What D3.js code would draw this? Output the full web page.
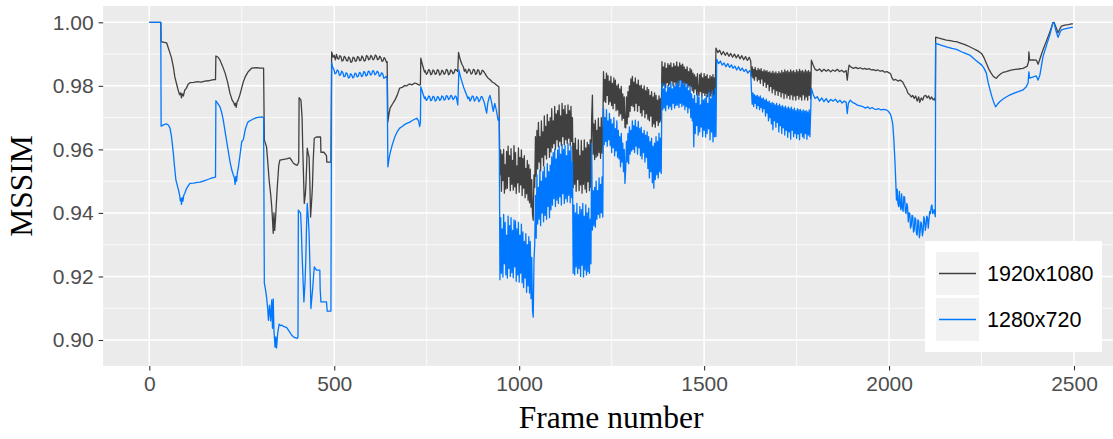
<!DOCTYPE html>
<html>
<head>
<meta charset="utf-8">
<script src="https://cdn.jsdelivr.net/npm/d3@7"></script>
<style>
  html, body { margin: 0; padding: 0; background: #ffffff; }
  svg { display: block; }
</style>
</head>
<body>
<svg id="chart" width="1113" height="439"></svg>
<script>
// ---------------- DATA ----------------
const seriesNames = ["1920x1080", "1280x720"];
const xTicks = [0, 500, 1000, 1500, 2000, 2500];
const xMinorTicks = [250, 750, 1250, 1750, 2250];
const yTicks = [0.90, 0.92, 0.94, 0.96, 0.98, 1.00];
const yMinorTicks = [0.91, 0.93, 0.95, 0.97, 0.99];
const xTitle = "Frame number";
const yTitle = "MSSIM";

// ---- 1920x1080: [frame, MSSIM] pairs for the calmer stretches ----
const series1080 = [
[0,1.0],[31,1.0],[32,.9939],[40,.9937],[47,.9935],[54,.991],[60,.9888],[65,.986],[69,.9828],[74,.9805],[78,.9787],[82,.9772],[85,.9778],[87,.9762],[89,.9775],[92,.9768],[96,.9787],[100,.9792],[105,.9805],[110,.981],[120,.9811],[130,.9813],[140,.9812],[150,.9815],[160,.9816],[170,.9819],[179,.982],
[180,.9894],[186,.989],[191,.9881],[198,.9862],[205,.984],[212,.981],[218,.9777],[224,.9755],[228,.9748],[231,.9738],[233,.9745],[235,.9732],[237,.9748],[240,.9755],[244,.9768],[248,.9785],[254,.9812],[260,.983],[267,.9844],[272,.985],[277,.9856],[290,.9857],[300,.9856],[309,.9856],
[311,.963],[317,.9608],[321,.955],[324,.9503],[328,.946],[331,.942],[333,.938],[335,.9336],[337,.940],[339,.9345],[341,.9377],[344,.944],[346,.9481],[350,.955],[353,.9566],[360,.9568],[371,.957],[380,.9573],[385,.9565],[389,.9557],[395,.9552],[400,.955],[404,.956],[405,.9763],[410,.9755],[413,.970],[415,.9598],[419,.943],[422,.946],[424,.9503],[427,.9604],[430,.9585],[432,.9576],[434,.950],[436,.9387],[439,.944],[441,.9482],[443,.956],[446,.9635],[452,.9639],[463,.9639],[464,.9591],[472,.9591],[479,.958],[480,.956],[491,.956],
[493,.9907],[497,.9890],[500,.9896],[503,.9882],[506,.9899],[509,.9886],[512,.9884],[515,.9895],[518,.9892],[521,.9878],[524,.988],[527,.9893],[530,.9889],[533,.9880],[536,.9878],[539,.9891],[542,.9886],[545,.9874],[548,.9876],[551,.9890],[554,.9888],[557,.9877],[560,.9879],[563,.9892],[566,.989],[569,.9879],[572,.9881],[575,.9894],[578,.9888],[581,.9878],[584,.988],[587,.9895],[590,.9893],[593,.9882],[596,.9884],[599,.9896],[602,.9891],[605,.9882],[608,.9885],[611,.9897],[614,.9894],[617,.9882],[620,.9884],[623,.9893],[626,.9889],[629,.9877],[632,.9879],[635,.9889],[638,.9884],[641,.9874],[643,.9876],
[645,.9687],[648,.9712],[651,.973],[657,.9742],[664,.9755],[670,.977],[677,.9793],[684,.9795],[690,.9801],[696,.98],[703,.9806],[710,.9803],[718,.9809],[724,.9806],[730,.9802],[733,.9804],
[734,.9887],[738,.9868],[741,.9856],[744,.9843],[746,.9848],[749,.9836],[752,.984],[755,.9851],[758,.9849],[761,.9835],[764,.9838],[767,.9850],[770,.9847],[773,.9836],[776,.9839],[779,.9851],[782,.9848],[785,.9834],[788,.9837],[791,.9849],[794,.9846],[797,.9836],[800,.984],[803,.9852],[806,.9849],[809,.9835],[812,.9838],[815,.9850],[818,.9847],[821,.9838],[824,.9841],[827,.9852],[830,.985],[834,.9845],[836,.9905],[840,.9885],[845,.9868],[849,.986],[852,.9846],[855,.9852],[858,.9840],[861,.9845],[864,.9853],[867,.9848],[870,.9837],[873,.984],[876,.9852],[879,.985],[882,.9836],[885,.9839],[888,.9851],[891,.9848],[894,.9835],[897,.9838],[900,.9849],[903,.9847],[907,.984],[911,.9832],[916,.9824],[921,.982],[927,.9812],[933,.9808],[939,.9802],[945,.9797],
[1532,.9919],[1537,.9905],[1542,.9912],[1547,.9898],[1552,.9908],[1557,.9896],[1562,.9905],[1567,.9893],[1572,.9902],[1577,.989],[1582,.99],[1587,.9888],[1592,.9898],[1597,.9885],[1602,.9895],[1607,.9882],[1612,.9892],[1617,.988],[1622,.989],[1626,.9878],
[1790,.9881],[1795,.9865],[1800,.9852],[1806,.9848],[1812,.9853],[1818,.9845],[1824,.9852],[1830,.9846],[1836,.9851],[1842,.9844],[1848,.985],[1854,.9846],[1860,.9852],[1866,.9845],[1872,.9849],[1878,.9843],[1884,.9848],[1887,.9818],[1890,.985],[1892,.9865],[1898,.9858],[1904,.9855],[1910,.9858],[1916,.9854],[1922,.9857],[1928,.9853],[1934,.9855],[1940,.9852],[1946,.9854],[1952,.985],[1958,.9851],[1964,.9848],[1970,.985],[1976,.9846],[1982,.9848],[1988,.9843],[1994,.9845],[2000,.9841],[2004,.9838],[2008,.9825],[2012,.9818],[2018,.982],[2024,.9815],[2030,.9818],[2037,.9812],[2042,.98],[2047,.979],[2051,.9777],[2056,.9772],[2060,.9765],[2064,.977],[2068,.976],[2072,.9768],[2076,.9752],[2080,.9765],[2083,.9748],[2087,.9762],[2091,.9755],[2095,.9768],[2099,.977],[2103,.9762],[2107,.9768],[2111,.9758],[2115,.9765],[2119,.9756],[2123,.976],[2125,.9752],
[2126,.9953],[2135,.995],[2145,.9947],[2155,.9944],[2165,.9942],[2175,.994],[2182,.9939],[2195,.9934],[2205,.993],[2218,.9923],[2230,.9916],[2240,.991],[2250,.9902],[2257,.9888],[2263,.9871],[2270,.9852],[2276,.984],[2281,.9831],[2286,.9826],[2290,.9824],[2296,.9832],[2302,.9838],[2308,.9842],[2317,.9845],[2325,.9848],[2333,.985],[2341,.9852],[2350,.9853],[2362,.9855],[2373,.9861],[2377,.9875],[2378,.9907],[2380,.9881],[2388,.9882],[2398,.9881],[2403,.9868],[2408,.9885],[2416,.9913],[2425,.994],[2435,.997],[2443,.9999],[2446,1.0],[2452,.9982],[2457,.9967],[2462,.998],[2466,.9988],[2475,.9991],[2485,.9993],[2493,.9995],[2497,.9995]
];
// 1920x1080, noisy stretch, one value every 2 frames from frame 948
const noise1080Start = 948;
const noise1080 = [
.9520,.9598,.9468,.9585,.9502,.9600,.9462,.9552,.9475,.9594,
.9478,.9610,.9515,.9580,.9470,.9602,.9490,.9565,.9472,.9612,
.9482,.9590,.9461,.9548,.9495,.9605,.9465,.9575,.9488,.9598,
.9455,.9572,.9478,.9580,.9448,.9540,.9460,.9565,.9440,.9552,
.9432,.9538,.9418,.9505,.9395,.9377,.9520,.9480,.9640,.9515,
.9660,.9538,.9685,.9560,.9640,.9532,.9690,.9575,.9655,.9548,
.9705,.9582,.9672,.9570,.9710,.9605,.9688,.9575,.9700,.9592,
.9728,.9605,.9690,.9618,.9735,.9600,.9712,.9630,.9722,.9608,
.9740,.9625,.9705,.9612,.9745,.9640,.9725,.9615,.9738,.9630,
.9710,.9618,.9740,.9635,.9722,.9612,.9735,.9625,.9700,.9480,
.9620,.9490,.9635,.9468,.9598,.9505,.9630,.9470,.9580,.9488,
.9628,.9462,.9595,.9490,.9630,.9475,.9605,.9465,.9622,.9498,
.9615,.9470,.9630,.9480,.9700,.9771,.9585,.9680,.9568,.9692,
.9575,.9660,.9580,.9698,.9590,.9670,.9572,.9700,.9588,.9650,
.9845,.9752,.9820,.9748,.9840,.9770,.9832,.9742,.9815,.9750,
.9830,.9738,.9808,.9728,.9825,.9745,.9818,.9722,.9800,.9725,
.9805,.9705,.9790,.9712,.9798,.9692,.9775,.9698,.9765,.9670,
.9668,.9765,.9680,.9782,.9702,.9800,.9720,.9822,.9738,.9830,
.9735,.9812,.9722,.9825,.9745,.9805,.9720,.9818,.9738,.9800,
.9715,.9802,.9705,.9790,.9725,.9800,.9700,.9785,.9712,.9795,
.9695,.9788,.9690,.9770,.9705,.9782,.9672,.9765,.9680,.9778,
.9670,.9770,.9690,.9755,.9675,.9768,.9685,.9760,.9690,
.9876,.9798,.9860,.9802,.9872,.9795,.9855,.9810,.9870,.9800,
.9865,.9805,.9872,.9815,.9858,.9800,.9870,.9812,.9862,.9802,
.9875,.9808,.9860,.9800,.9872,.9818,.9865,.9803,.9868,.9810,
.9860,.9797,.9852,.9808,.9860,.9795,.9845,.9800,.9855,.9798,
.9850,.9785,.9840,.9778,.9835,.9790,.9828,.9772,.9838,.9780,
.9770,.9835,.9782,.9840,.9768,.9825,.9778,.9838,.9770,.9830,
.9775,.9835,.9765,.9822,.9780,.9832,.9768,.9828,.9776,.9835,.9766,.9825,.9772
];
// 1920x1080, second noisy stretch, every 2 frames from frame 1628
const noise1080bStart = 1628;
const noise1080b = [
.9830,.9860,.9825,.9852,.9818,.9858,.9830,.9848,.9815,.9855,
.9820,.9850,.9808,.9854,.9822,.9845,.9800,.9850,.9812,.9846,
.9795,.9848,.9805,.9842,.9785,.9845,.9798,.9840,.9778,.9846,
.9790,.9840,.9772,.9844,.9785,.9838,.9770,.9845,.9782,.9840,
.9765,.9848,.9778,.9842,.9760,.9850,.9775,.9845,.9762,.9848,
.9770,.9843,.9758,.9850,.9772,.9845,.9756,.9848,.9768,.9842,
.9755,.9850,.9770,.9845,.9758,.9852,.9765,.9846,.9755,.9848,
.9772,.9844,.9756,.9850,.9765,.9845,.9755,.9848,.9770,.9843,.9760
];

// ---- 1280x720: [frame, MSSIM] pairs for the calmer stretches ----
const series720 = [
[0,1.0],[31,1.0],[32,.9673],[40,.9678],[47,.968],[52,.9676],[56,.9667],[60,.964],[65,.9588],[68,.9548],[72,.9503],[76,.9485],[79,.9472],[82,.9455],[84,.9438],[86,.9445],[87,.9427],[89,.9448],[91,.9437],[93,.9455],[96,.9462],[100,.9475],[105,.9485],[110,.9493],[120,.9494],[130,.9496],[137,.9497],[150,.9502],[160,.9506],[170,.951],[179,.9513],
[180,.9753],[185,.9745],[191,.9734],[196,.9715],[200,.9692],[206,.9648],[213,.9598],[218,.9562],[223,.9535],[227,.952],[230,.951],[232,.949],[234,.9515],[236,.95],[238,.9525],[241,.9545],[245,.958],[250,.9625],[254,.963],[260,.9665],[266,.9685],[272,.969],[280,.9695],[290,.97],[304,.9702],[309,.97],
[311,.9179],[314,.916],[317,.9135],[320,.910],[322,.9062],[325,.911],[328,.906],[331,.9126],[333,.9037],[335,.9129],[337,.903],[340,.8977],[342,.901],[344,.8975],[347,.902],[351,.905],[355,.9045],[358,.9047],[364,.9042],[371,.904],[378,.9028],[385,.9015],[392,.9008],[400,.9005],[402,.901],[403,.9409],[409,.9399],[411,.935],[413,.9272],[416,.918],[418,.912],[421,.918],[423,.925],[425,.935],[427,.943],[430,.938],[432,.9336],[435,.920],[437,.9099],[440,.914],[442,.9166],[444,.920],[446,.923],[452,.922],[461,.922],[462,.916],[464,.912],[472,.912],[479,.912],[481,.9091],[491,.9091],
[493,.9873],[496,.9858],[499,.9852],[502,.9838],[505,.984],[508,.9850],[511,.9847],[514,.9833],[517,.9835],[520,.9846],[523,.9843],[526,.9829],[529,.983],[532,.9841],[535,.9838],[538,.9825],[541,.9826],[544,.9838],[547,.9835],[550,.9825],[553,.9828],[556,.9840],[559,.9838],[562,.9828],[565,.983],[568,.9842],[571,.984],[574,.9829],[577,.9832],[580,.9845],[583,.9842],[586,.9831],[589,.9834],[592,.9846],[595,.9845],[598,.9834],[601,.9836],[604,.9848],[607,.9846],[610,.9835],[613,.9838],[616,.9846],[619,.9843],[622,.9830],[625,.9832],[628,.9841],[631,.9838],[634,.9824],[637,.9826],[640,.9830],[643,.9822],
[645,.9545],[648,.957],[651,.9588],[657,.9615],[664,.964],[670,.9655],[677,.9667],[684,.9672],[690,.9678],[696,.9682],[703,.9685],[710,.969],[716,.9694],[723,.9698],[728,.969],[731,.9672],[733,.9685],
[734,.9797],[738,.9782],[741,.9771],[744,.9760],[746,.9765],[749,.9754],[752,.9758],[755,.9768],[758,.9766],[761,.9753],[764,.9756],[767,.9767],[770,.9765],[773,.9752],[776,.9755],[779,.9766],[782,.9764],[785,.9754],[788,.9757],[791,.9768],[794,.9766],[797,.9755],[800,.9758],[803,.9769],[806,.9767],[809,.9757],[812,.976],[815,.9770],[818,.9768],[821,.9757],[824,.976],[827,.9768],[830,.9765],[834,.974],[837,.985],[841,.983],[844,.9818],[850,.9795],[855,.9780],[858,.9771],[861,.9760],[864,.9765],[867,.9752],[870,.9758],[873,.9768],[876,.9766],[879,.9752],[882,.9757],[885,.9766],[888,.9762],[891,.9750],[894,.9755],[897,.9766],[900,.9765],[905,.975],[910,.9725],[912,.9714],[915,.9745],[918,.976],[921,.977],[925,.975],[930,.972],[934,.9745],[938,.9725],[943,.9692],[946,.97],
[1532,.964],[1534,.9884],[1539,.987],[1544,.9878],[1549,.9865],[1554,.9872],[1559,.986],[1564,.987],[1569,.9858],[1574,.9866],[1578,.9855],[1583,.9862],[1588,.985],[1593,.986],[1598,.9848],[1603,.9856],[1608,.9845],[1613,.9852],[1618,.984],[1623,.9848],[1626,.9842],
[1790,.9792],[1795,.9772],[1800,.976],[1806,.9766],[1812,.9752],[1818,.9762],[1824,.975],[1830,.976],[1836,.9748],[1842,.9757],[1849,.9752],[1855,.9758],[1861,.9748],[1867,.9755],[1873,.9746],[1879,.9752],[1884,.9748],[1887,.9713],[1890,.9745],[1895,.9755],[1901,.9748],[1907,.9745],[1913,.974],[1919,.9738],[1925,.9736],[1930,.9734],[1936,.973],[1942,.9734],[1948,.9728],[1954,.9732],[1960,.9727],[1966,.9726],[1972,.9728],[1978,.9724],[1985,.9726],[1993,.9724],[1998,.972],[2003,.9712],[2006,.9702],[2010,.968],[2013,.963],[2016,.956],[2018,.9503],[2020,.944],[2022,.9475],[2024,.9430],[2026,.942],[2028,.9468],[2030,.9425],[2032,.941],[2034,.9460],[2036,.9415],[2038,.9405],[2040,.9452],[2042,.945],[2044,.9405],[2046,.9398],[2048,.9430],[2050,.942],[2052,.9372],[2054,.9400],[2056,.9399],[2058,.9352],[2060,.936],[2062,.9392],[2064,.939],[2066,.9340],[2068,.9345],[2070,.9385],[2072,.938],[2074,.9335],[2076,.933],[2078,.9378],[2080,.9375],[2082,.9322],[2084,.9340],[2086,.9372],[2088,.9365],[2090,.9328],[2092,.9340],[2094,.9388],[2096,.9380],[2098,.9345],[2100,.9360],[2102,.9390],[2104,.9385],[2106,.9352],[2108,.9380],[2110,.9405],[2112,.9398],[2114,.9420],[2116,.9425],[2118,.9398],[2120,.9402],[2122,.941],[2125,.9388],
[2126,.9934],[2140,.9928],[2155,.9923],[2170,.9918],[2182,.9915],[2200,.9905],[2218,.9897],[2235,.988],[2250,.9866],[2257,.9855],[2263,.984],[2268,.981],[2272,.9792],[2277,.977],[2281,.9755],[2285,.9742],[2288,.9734],[2293,.9742],[2299,.975],[2310,.976],[2326,.9771],[2340,.9778],[2350,.9782],[2362,.9787],[2371,.9797],[2376,.981],[2378,.9844],[2380,.9824],[2390,.9828],[2398,.9831],[2403,.9818],[2408,.9835],[2416,.9891],[2425,.9925],[2435,.9962],[2443,.9999],[2446,.9998],[2452,.997],[2457,.9953],[2462,.9968],[2466,.9976],[2475,.9979],[2485,.9982],[2493,.9984],[2497,.9984]
];
// 1280x720, noisy stretch, one value every 2 frames from frame 948
const noise720Start = 948;
const noise720 = [
.9190,.9385,.9210,.9350,.9198,.9395,.9240,.9370,.9205,.9330,
.9195,.9390,.9225,.9360,.9200,.9385,.9212,.9345,.9196,.9378,
.9230,.9375,.9185,.9350,.9205,.9370,.9182,.9330,.9210,.9365,
.9180,.9340,.9165,.9310,.9195,.9335,.9150,.9300,.9170,.9325,
.9148,.9310,.9130,.9260,.9095,.9072,.9250,.9300,.9455,.9320,
.9520,.9365,.9480,.9380,.9535,.9360,.9500,.9400,.9530,.9372,
.9545,.9392,.9510,.9380,.9555,.9420,.9530,.9385,.9550,.9410,
.9576,.9425,.9590,.9445,.9600,.9420,.9570,.9440,.9598,.9430,
.9610,.9450,.9585,.9425,.9615,.9460,.9600,.9430,.9612,.9445,
.9580,.9435,.9618,.9455,.9595,.9432,.9610,.9448,.9560,.9210,
.9425,.9205,.9400,.9230,.9430,.9210,.9395,.9225,.9420,.9200,
.9410,.9235,.9430,.9198,.9390,.9220,.9425,.9205,.9400,.9215,
.9415,.9210,.9380,.9240,.9620,.9346,.9470,.9360,.9480,.9355,
.9500,.9380,.9470,.9395,.9510,.9385,.9490,.9400,.9513,.9387,
.9730,.9615,.9700,.9625,.9725,.9610,.9690,.9630,.9713,.9612,
.9695,.9590,.9680,.9605,.9700,.9580,.9665,.9595,.9690,.9575,
.9660,.9570,.9640,.9545,.9650,.9560,.9620,.9530,.9600,.9493,
.9540,.9625,.9560,.9650,.9555,.9671,.9585,.9660,.9595,.9690,
.9600,.9675,.9590,.9692,.9610,.9670,.9585,.9688,.9605,.9665,
.9580,.9670,.9570,.9650,.9590,.9660,.9560,.9645,.9575,.9655,
.9540,.9640,.9510,.9625,.9530,.9635,.9495,.9610,.9478,.9620,
.9505,.9640,.9520,.9625,.9510,.9651,.9530,.9635,.9524,
.9808,.9725,.9790,.9730,.9805,.9722,.9780,.9740,.9800,.9728,
.9795,.9735,.9810,.9725,.9790,.9745,.9805,.9730,.9798,.9738,
.9805,.9740,.9815,.9732,.9795,.9745,.9818,.9735,.9808,.9740,
.9810,.9725,.9795,.9735,.9805,.9715,.9785,.9730,.9800,.9700,
.9775,.9690,.9760,.9608,.9770,.9650,.9745,.9675,.9775,.9645,
.9765,.9655,.9740,.9670,.9770,.9640,.9755,.9660,.9760,.9639,
.9770,.9650,.9745,.9665,.9780,.9630,.9760,.9655,.9785,.9624,.9770,.9640,.9790
];
// 1280x720, second noisy stretch, every 2 frames from frame 1628
const noise720bStart = 1628;
const noise720b = [
.9785,.9742,.9778,.9735,.9772,.9745,.9768,.9728,.9770,.9738,
.9765,.9725,.9768,.9732,.9760,.9718,.9762,.9728,.9755,.9705,
.9758,.9715,.9750,.9690,.9752,.9700,.9745,.9680,.9748,.9662,
.9745,.9690,.9740,.9670,.9745,.9685,.9738,.9655,.9742,.9675,
.9735,.9650,.9738,.9668,.9732,.9645,.9736,.9660,.9730,.9638,
.9734,.9655,.9728,.9632,.9733,.9660,.9725,.9640,.9730,.9650,
.9722,.9635,.9728,.9648,.9724,.9630,.9726,.9652,.9720,.9640,
.9724,.9635,.9720,.9650,.9722,.9632,.9718,.9645,.9724,.9640,.9715
];

const seriesColors = ["#404040", "#0077ff"];

// ---------------- BUILD LINES ----------------
function withDense(pairs, denseSets) {
  const out = pairs.slice();
  denseSets.forEach(([start, vals]) => vals.forEach((v, i) => out.push([start + 2 * i, v])));
  return out.sort((a, b) => a[0] - b[0]);
}
const full1080 = withDense(series1080, [[noise1080Start, noise1080], [noise1080bStart, noise1080b]]);
const full720 = withDense(series720, [[noise720Start, noise720], [noise720bStart, noise720b]]);

// ---------------- DRAWING ----------------
const svg = d3.select("#chart");

const x = d3.scaleLinear().domain([0, 2500]).range([149.3, 1074]);
const y = d3.scaleLinear().domain([0.90, 1.00]).range([340, 22.3]);

const xLo = -124.85, xHi = 2621.85;   // ggplot 5% expansion of data range
const yLo = 0.89185, yHi = 1.00515;

const px0 = x(xLo), px1 = x(xHi), py0 = y(yHi), py1 = y(yLo);

svg.append("rect")
  .attr("x", px0).attr("y", py0)
  .attr("width", px1 - px0).attr("height", py1 - py0)
  .attr("fill", "#ebebeb");

const grid = svg.append("g");
grid.selectAll("line.xminor").data(xMinorTicks).enter().append("line")
  .attr("x1", d => x(d)).attr("x2", d => x(d))
  .attr("y1", py0).attr("y2", py1)
  .attr("stroke", "#ffffff").attr("stroke-width", 0.75);
grid.selectAll("line.yminor").data(yMinorTicks).enter().append("line")
  .attr("x1", px0).attr("x2", px1)
  .attr("y1", d => y(d)).attr("y2", d => y(d))
  .attr("stroke", "#ffffff").attr("stroke-width", 0.75);
grid.selectAll("line.xmajor").data(xTicks).enter().append("line")
  .attr("x1", d => x(d)).attr("x2", d => x(d))
  .attr("y1", py0).attr("y2", py1)
  .attr("stroke", "#ffffff").attr("stroke-width", 1.5);
grid.selectAll("line.ymajor").data(yTicks).enter().append("line")
  .attr("x1", px0).attr("x2", px1)
  .attr("y1", d => y(d)).attr("y2", d => y(d))
  .attr("stroke", "#ffffff").attr("stroke-width", 1.5);

const line = d3.line().x(d => x(d[0])).y(d => y(d[1]));
svg.append("clipPath").attr("id", "clip")
  .append("rect").attr("x", px0).attr("y", py0).attr("width", px1 - px0).attr("height", py1 - py0);
const lines = svg.append("g").attr("clip-path", "url(#clip)");
[full1080, full720].forEach((s, i) => {
  lines.append("path")
    .datum(s)
    .attr("d", line)
    .attr("fill", "none")
    .attr("stroke", seriesColors[i])
    .attr("stroke-width", 1.3)
    .attr("stroke-linejoin", "round");
});

const xAxis = d3.axisBottom(x).tickValues(xTicks).tickSize(4.5).tickPadding(6).tickFormat(d3.format("d"));
const yAxis = d3.axisLeft(y).tickValues(yTicks).tickSize(4.5).tickPadding(5).tickFormat(d3.format(".2f"));

const gx = svg.append("g").attr("transform", `translate(0,${py1})`).call(xAxis);
const gy = svg.append("g").attr("transform", `translate(${px0},0)`).call(yAxis);
[gx, gy].forEach(g => {
  g.select(".domain").remove();
  g.selectAll(".tick line").attr("stroke", "#333333").attr("stroke-width", 1.1);
  g.selectAll(".tick text")
    .attr("fill", "#4d4d4d")
    .style("font-family", "'Liberation Sans', Arial, sans-serif")
    .style("font-size", "21px");
});
gx.selectAll(".tick text").attr("dy", "0.71em");

svg.append("text")
  .attr("x", (px0 + px1) / 2).attr("y", 428)
  .attr("text-anchor", "middle")
  .style("font-family", "'Liberation Serif', 'Times New Roman', serif")
  .style("font-size", "31.5px")
  .attr("fill", "#000")
  .text(xTitle);
svg.append("text")
  .attr("transform", `translate(32,${(py0 + py1) / 2}) rotate(-90)`)
  .attr("text-anchor", "middle")
  .style("font-family", "'Liberation Serif', 'Times New Roman', serif")
  .style("font-size", "31.5px")
  .attr("fill", "#000")
  .text(yTitle);

const lg = svg.append("g");
lg.append("rect").attr("x", 925).attr("y", 241).attr("width", 177).attr("height", 111).attr("fill", "#ffffff");
seriesNames.forEach((name, i) => {
  const ky = 252 + i * 46;
  lg.append("rect").attr("x", 936).attr("y", ky).attr("width", 43).attr("height", 43).attr("fill", "#f2f2f2");
  lg.append("line").attr("x1", 939).attr("x2", 976).attr("y1", ky + 21.5).attr("y2", ky + 21.5)
    .attr("stroke", seriesColors[i]).attr("stroke-width", 1.3);
  lg.append("text").attr("x", 987).attr("y", ky + 21.5).attr("dy", "0.36em")
    .style("font-family", "'Liberation Sans', Arial, sans-serif")
    .style("font-size", "21.5px")
    .attr("fill", "#000")
    .text(name);
});
</script>
</body>
</html>
